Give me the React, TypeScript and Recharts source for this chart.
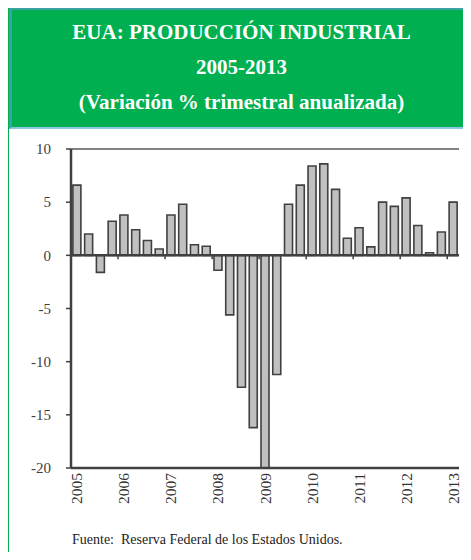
import React from "react";
import {
  BarChart,
  Bar,
  XAxis,
  YAxis,
  ReferenceLine,
} from "recharts";

// quarters 2005-I .. 2013-I
const years = ["2005", "2006", "2007", "2008", "2009", "2010", "2011", "2012", "2013"];
const quarters = years.flatMap((y) => [1, 2, 3, 4].map((q) => `${y}-${q}`)).slice(0, 33);
const variacion = [
  6.6, 2.0, -1.6, 3.2,
  3.8, 2.4, 1.4, 0.6,
  3.8, 4.8, 1.0, 0.85,
  -1.4, -5.6, -12.4, -16.2,
  -20.0, -11.2, 4.8, 6.6,
  8.4, 8.6, 6.2, 1.6,
  2.6, 0.8, 5.0, 4.6,
  5.4, 2.8, 0.25, 2.2,
  5.0,
];
const yTicks = [-20, -15, -10, -5, 0, 5, 10];

const data = quarters.map((q, i) => ({ q, v: variacion[i] }));

const SERIF = "'Liberation Serif', 'DejaVu Serif', serif";
const W = 471;
const H = 400;
const M = { top: 19, right: 12, left: 0, bottom: 12 };
const Y_AXIS_W = 71;
const plotW = W - M.left - M.right - Y_AXIS_W;
const plotH = H - M.top - M.bottom - 50;
const band = plotW / quarters.length;
const zeroY = M.top + plotH * (10 / 30);

function YearTick(props: any) {
  const { x, y, payload } = props;
  const [yr, q] = String(payload.value).split("-");
  if (q !== "1") return null;
  const bx = x - band / 2;
  return (
    <g>
      {yr !== "2005" && (
        <line x1={bx} x2={bx} y1={zeroY} y2={zeroY + 4} stroke="#404040" strokeWidth={1.5} />
      )}
      <text
        x={x}
        y={y}
        transform={`rotate(-90, ${x}, ${y})`}
        textAnchor="end"
        dominantBaseline="central"
        fontFamily={SERIF}
        fontSize={15.5}
        fill="#333"
      >
        {yr}
      </text>
    </g>
  );
}

export default function App() {
  return (
    <div
      style={{
        position: "relative",
        margin: -8,
        width: W,
        height: 560,
        background: "#fff",
        overflow: "hidden",
        fontFamily: SERIF,
      }}
    >
      <div
        style={{
          position: "absolute",
          left: 7,
          top: 8,
          width: 2,
          height: 552,
          background: "#00b050",
        }}
      />
      <div
        style={{
          position: "absolute",
          left: 9,
          top: 8,
          width: 462,
          height: 121,
          background: "#00b050",
          borderTop: "2px solid #3aa3a3",
          borderLeft: "3px solid #3aa3a3",
          borderBottom: "2px solid #8cc8e0",
          boxSizing: "border-box",
          color: "#fff",
          fontWeight: "bold",
          fontFamily: SERIF,
          fontSize: 21,
          textAlign: "center",
          paddingLeft: 8,
        }}
      >
        <div style={{ position: "absolute", left: 0, right: 0, top: 5, lineHeight: "35px" }}>
          <div>EUA: PRODUCCIÓN INDUSTRIAL</div>
          <div>2005-2013</div>
          <div>(Variación % trimestral anualizada)</div>
        </div>
      </div>

      <div style={{ position: "absolute", left: 0, top: 130 }}>
        <BarChart width={W} height={H} data={data} margin={M} barCategoryGap="16%">
          <XAxis
            dataKey="q"
            interval={0}
            axisLine={false}
            tickLine={false}
            tickSize={0}
            tickMargin={5}
            height={50}
            tick={<YearTick />}
          />
          <YAxis
            domain={[-20, 10]}
            ticks={yTicks}
            width={Y_AXIS_W}
            axisLine={{ stroke: "#404040", strokeWidth: 2.5 }}
            tickLine={{ stroke: "#404040", strokeWidth: 1.5 }}
            tickSize={5}
            tickMargin={15}
            tick={{ fill: "#404040", fontSize: 15, fontFamily: SERIF }}
            allowDataOverflow
          />
          <YAxis
            yAxisId="r"
            orientation="right"
            domain={[-20, 10]}
            width={0}
            tick={false}
            tickLine={false}
            axisLine={{ stroke: "#595959", strokeWidth: 2 }}
          />
          <ReferenceLine y={10} stroke="#595959" strokeWidth={1.5} />
          <ReferenceLine y={-20} stroke="#404040" strokeWidth={2.5} />
          <Bar
            dataKey="v"
            fill="#c0c0c0"
            stroke="#404040"
            strokeWidth={1.6}
            isAnimationActive={false}
          />
          <ReferenceLine y={0} stroke="#404040" strokeWidth={2.5} />
        </BarChart>
      </div>

      <div
        style={{
          position: "absolute",
          left: 72,
          top: 532,
          fontSize: 14,
          color: "#222",
          whiteSpace: "pre",
        }}
      >
        {"Fuente:  Reserva Federal de los Estados Unidos."}
      </div>
    </div>
  );
}
